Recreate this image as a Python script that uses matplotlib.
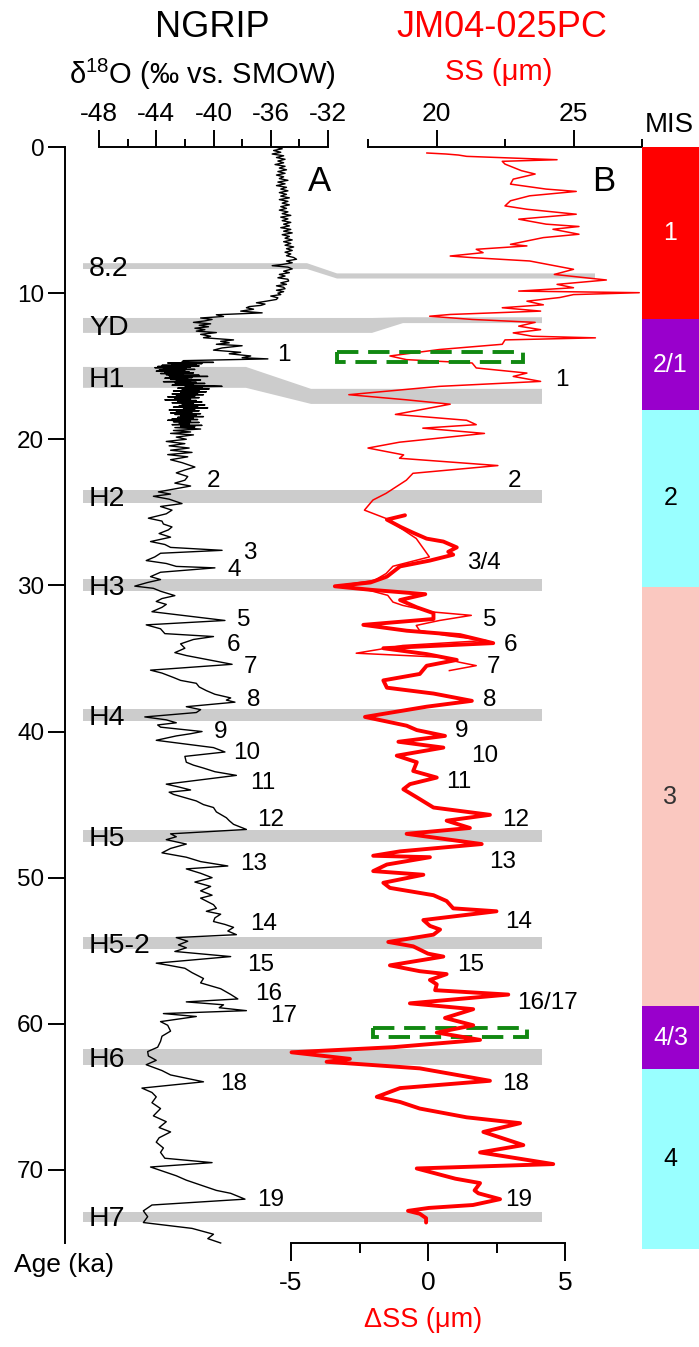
import numpy as np
import matplotlib
matplotlib.use("Agg")
import matplotlib.pyplot as plt
from matplotlib.patches import Polygon, Rectangle

plt.rcParams['font.family'] = ['Liberation Sans', 'DejaVu Sans']
plt.rcParams['axes.unicode_minus'] = False
plt.rcParams['mathtext.fontset'] = 'custom'
plt.rcParams['mathtext.rm'] = 'Liberation Sans'
plt.rcParams['mathtext.it'] = 'Liberation Sans:italic'

# ---- NGRIP d18O (age ka, permil) ----
ngrip_pts = [
    (0.00, -35.7), (0.12, -35.2), (0.24, -35.8), (0.36, -35.3), (0.48, -35.9), (0.60, -35.1),
    (0.72, -35.6), (0.84, -35.0), (0.96, -35.5), (1.08, -35.1), (1.20, -35.7), (1.32, -35.0),
    (1.44, -35.4), (1.56, -34.9), (1.68, -35.5), (1.80, -35.0), (1.92, -35.6), (2.04, -35.1),
    (2.16, -35.4), (2.28, -34.8), (2.40, -35.5), (2.52, -35.0), (2.64, -35.6), (2.76, -34.9),
    (2.88, -35.3), (3.00, -34.8), (3.12, -35.4), (3.24, -34.9), (3.36, -35.3), (3.48, -34.7),
    (3.60, -35.4), (3.72, -34.8), (3.84, -35.2), (3.96, -34.7), (4.08, -35.3), (4.20, -34.9),
    (4.32, -35.4), (4.44, -34.8), (4.56, -35.2), (4.68, -34.6), (4.80, -35.3), (4.92, -34.8),
    (5.04, -35.2), (5.16, -34.6), (5.28, -35.1), (5.40, -34.7), (5.52, -35.3), (5.64, -34.6),
    (5.76, -35.1), (5.88, -34.5), (6.00, -35.2), (6.12, -34.7), (6.24, -35.0), (6.36, -34.5),
    (6.48, -35.1), (6.60, -34.6), (6.72, -35.0), (6.84, -34.4), (6.96, -34.9), (7.08, -34.5),
    (7.20, -35.0), (7.32, -34.6), (7.44, -34.9), (7.56, -34.4), (7.68, -34.2), (7.80, -34.9),
    (7.92, -34.5), (8.04, -35.2), (8.12, -35.9), (8.22, -34.8), (8.34, -34.5), (8.50, -35.1),
    (8.60, -34.7), (8.72, -35.4), (8.83, -35.0), (8.95, -35.5), (9.05, -34.8), (9.17, -34.75),
    (9.30, -35.3), (9.40, -34.9), (9.50, -35.6), (9.60, -35.1), (9.70, -35.0), (9.80, -35.6),
    (9.90, -35.1), (10.0, -35.5), (10.1, -35.3), (10.2, -36.0), (10.32, -35.5), (10.43, -35.6),
    (10.55, -36.3), (10.66, -37.0), (10.75, -36.4), (10.84, -36.7), (10.92, -37.5), (11.0, -37.7),
    (11.1, -37.2), (11.23, -38.1), (11.35, -36.6), (11.48, -39.8), (11.6, -39.3), (11.7, -40.9),
    (11.8, -40.1), (11.9, -40.6), (12.0, -41.4), (12.1, -40.2), (12.2, -41.0), (12.3, -40.35),
    (12.4, -41.3), (12.5, -40.6), (12.6, -41.2), (12.7, -39.8), (12.82, -40.9), (12.95, -40.2),
    (13.05, -40.7), (13.2, -38.6), (13.3, -39.5), (13.4, -38.9), (13.5, -39.8), (13.6, -38.0),
    (13.75, -39.4), (13.9, -40.0), (14.05, -38.1), (14.15, -38.9), (14.3, -37.4), (14.42, -38.0),
    (14.5, -36.2), (14.62, -42.1),
    (14.70, -42.2), (14.74, -40.0), (14.78, -43.2), (14.82, -40.8), (14.86, -42.9), (14.90, -41.2),
    (14.94, -43.6), (14.98, -41.0), (15.02, -43.9), (15.06, -41.6), (15.10, -44.1), (15.14, -41.9),
    (15.18, -43.5), (15.22, -41.3), (15.26, -43.8), (15.30, -42.0), (15.34, -44.0), (15.38, -41.7),
    (15.42, -43.4), (15.46, -41.4), (15.50, -43.7), (15.54, -42.1), (15.58, -43.3), (15.62, -41.0),
    (15.66, -43.1), (15.70, -40.4), (15.74, -42.8), (15.78, -41.5), (15.82, -43.4), (15.86, -41.8),
    (15.90, -43.0), (15.94, -40.9), (15.98, -42.6), (16.02, -41.6), (16.06, -43.5), (16.10, -41.2),
    (16.14, -42.7), (16.18, -40.6), (16.22, -42.4), (16.26, -41.4), (16.30, -42.9), (16.34, -40.1),
    (16.38, -39.4), (16.42, -42.0), (16.46, -40.8), (16.50, -42.5), (16.55, -40.3), (16.60, -42.2),
    (16.65, -41.0), (16.70, -42.8), (16.75, -40.5), (16.80, -42.3), (16.85, -41.1), (16.90, -42.9),
    (16.95, -40.7), (17.00, -42.6), (17.05, -41.3), (17.10, -43.2), (17.15, -41.0), (17.20, -42.7),
    (17.25, -41.6), (17.30, -43.4), (17.35, -41.2), (17.40, -42.5), (17.45, -40.8), (17.50, -42.9),
    (17.55, -41.4), (17.60, -42.2), (17.65, -40.6), (17.70, -42.4), (17.75, -41.1), (17.80, -42.8),
    (17.85, -40.4), (17.90, -42.1), (17.95, -41.3), (18.00, -43.1), (18.05, -41.0), (18.10, -42.6),
    (18.15, -41.5), (18.20, -43.0), (18.25, -40.9), (18.30, -42.7), (18.35, -41.2), (18.40, -42.3),
    (18.45, -40.7), (18.50, -42.5), (18.55, -41.4), (18.60, -42.9), (18.65, -41.1), (18.70, -43.2),
    (18.75, -41.6), (18.80, -42.8), (18.85, -41.0), (18.90, -42.4), (18.95, -41.7), (19.00, -42.9),
    (19.05, -40.8), (19.10, -42.3), (19.15, -41.3), (19.20, -42.7), (19.30, -40.9), (19.40, -42.8),
    (19.50, -41.6), (19.60, -43.0), (19.70, -41.4), (19.85, -42.6), (20.00, -41.9), (20.15, -43.3),
    (20.30, -42.0), (20.45, -43.1), (20.60, -41.7), (20.75, -43.0), (20.90, -41.5), (21.05, -43.2),
    (21.20, -41.8), (21.4, -43.0), (21.6, -42.2), (21.9, -41.3), (22.1, -42.0), (22.3, -42.6),
    (22.55, -41.8), (22.8, -42.0), (23.0, -42.7), (23.2, -41.6), (23.6, -43.85), (23.75, -43.0),
    (23.9, -44.2), (24.1, -43.1), (24.4, -42.2), (24.6, -43.7), (24.85, -42.9), (25.1, -43.3),
    (25.4, -44.55), (25.6, -43.6), (25.8, -43.5), (26.0, -42.9), (26.2, -43.15), (26.45, -43.8),
    (26.7, -43.0), (27.0, -44.4), (27.2, -43.4), (27.4, -43.0), (27.6, -39.4), (27.8, -43.7),
    (28.05, -44.1), (28.3, -44.7), (28.5, -43.3), (28.7, -42.6), (28.8, -39.9), (29.1, -43.7),
    (29.4, -44.4), (29.6, -43.7), (29.8, -44.6), (30.05, -45.5), (30.2, -44.2), (30.4, -43.7),
    (30.7, -42.7), (30.9, -43.6), (31.1, -44.0), (31.3, -43.3), (31.5, -43.6), (31.8, -44.3),
    (32.4, -39.2), (32.7, -44.7), (32.97, -43.7), (33.3, -43.4), (33.5, -40.0), (33.7, -41.4),
    (34.0, -42.3), (34.3, -42.0), (34.6, -42.7), (34.8, -41.9), (35.4, -38.7), (35.8, -44.4),
    (36.0, -43.6), (36.3, -42.8), (36.5, -42.3), (36.7, -41.2), (36.95, -41.0), (37.2, -40.5),
    (37.45, -39.9), (37.7, -38.8), (37.85, -39.1), (37.99, -38.5), (38.3, -41.9), (38.5, -40.9),
    (38.7, -41.2), (39.0, -44.8), (39.2, -43.3), (39.4, -42.6), (39.55, -43.9), (39.7, -43.7),
    (40.0, -40.8), (40.15, -41.6), (40.3, -42.6), (40.6, -44.0), (41.1, -40.0), (41.4, -39.2),
    (41.7, -42.0), (42.1, -41.9), (42.3, -41.4), (42.5, -40.7), (42.75, -39.9), (43.0, -38.4),
    (43.6, -43.3), (43.8, -42.4), (44.0, -41.6), (44.15, -43.1), (44.3, -42.8), (44.55, -41.9),
    (44.75, -41.2), (45.0, -40.7), (45.2, -40.0), (45.5, -39.8), (45.9, -39.1), (46.1, -38.9),
    (46.35, -38.6), (46.7, -37.7), (47.0, -43.0), (47.2, -42.6), (47.4, -43.3), (47.7, -41.9),
    (48.0, -43.0), (48.3, -43.6), (48.6, -41.9), (48.9, -40.9), (49.2, -39.0), (49.4, -41.9),
    (49.7, -40.9), (50.0, -40.1), (50.3, -41.3), (50.6, -40.2), (50.9, -40.9), (51.2, -40.1),
    (51.4, -40.9), (51.6, -40.5), (51.85, -40.0), (52.1, -39.8), (52.3, -40.5), (52.5, -39.5),
    (52.75, -39.9), (53.0, -40.0), (53.2, -39.2), (53.4, -38.6), (53.65, -39.0), (53.9, -38.4),
    (54.1, -42.6), (54.35, -41.8), (54.6, -42.45), (54.8, -41.9), (55.05, -42.7), (55.4, -38.8),
    (55.85, -44.0), (56.0, -43.1), (56.2, -42.0), (56.5, -41.5), (56.9, -40.7), (57.2, -40.9),
    (57.6, -39.5), (57.99, -38.8), (58.3, -38.3), (58.5, -41.9), (58.7, -39.3), (58.9, -39.6),
    (59.1, -37.7), (59.3, -43.5), (59.5, -41.2), (59.85, -43.7), (60.1, -43.2), (60.5, -43.0),
    (60.85, -43.6), (61.2, -43.7), (61.6, -43.9), (61.9, -44.6), (62.2, -44.55), (62.5, -44.0),
    (62.8, -44.7), (63.2, -43.6), (63.5, -43.0), (63.97, -40.7), (64.4, -45.0), (64.7, -44.3),
    (65.0, -44.0), (65.4, -44.3), (65.8, -43.7), (66.3, -44.2), (66.7, -43.3), (67.1, -43.8),
    (67.4, -43.0), (67.8, -43.8), (68.1, -44.0), (68.5, -43.5), (68.8, -43.7), (69.2, -43.4),
    (69.5, -40.1), (69.8, -44.4), (70.1, -43.5), (70.4, -42.6), (70.7, -41.9), (71.1, -40.7),
    (71.4, -39.8), (71.6, -38.8), (72.0, -37.8), (72.4, -44.3), (72.8, -44.9), (73.2, -44.6),
    (73.6, -44.9), (74.0, -41.5), (74.4, -40.0), (74.7, -40.4), (75.0, -39.5)]
ngrip_age, ngrip_d18o = map(list, zip(*ngrip_pts))

# ---- JM04-025PC sortable silt, SS (um) ----
ss_pts = [
    (0.41, 19.65), (0.48, 20.35), (0.55, 20.8), (0.64, 21.1), (0.87, 24.4), (0.98, 22.4),
    (1.17, 22.5), (1.62, 23.1), (1.85, 23.6), (2.2, 22.8), (2.54, 22.7), (2.88, 24.0),
    (3.04, 25.1), (3.34, 23.4), (3.68, 22.7), (4.03, 22.5), (4.26, 23.3), (4.6, 25.1),
    (4.94, 23.0), (5.28, 24.0), (5.44, 25.2), (5.63, 24.25), (5.97, 25.2), (6.2, 23.9),
    (6.66, 22.7), (6.77, 23.3), (7.0, 21.45), (7.23, 21.7), (7.46, 20.5), (7.57, 21.3),
    (7.8, 23.4), (8.37, 25.0), (8.72, 24.3), (9.1, 26.2), (9.4, 24.4), (9.63, 25.0),
    (9.86, 23.0), (9.97, 27.4), (10.1, 25.0), (10.3, 24.5), (10.55, 23.3), (10.8, 23.9),
    (11.0, 22.4), (11.23, 23.8), (11.46, 20.5), (11.58, 19.75), (11.8, 21.3), (12.0, 23.6),
    (12.26, 23.0), (12.5, 23.8), (12.72, 22.8), (12.95, 23.5), (13.06, 25.8), (13.2, 22.5),
    (13.5, 22.4), (13.86, 20.1), (14.3, 18.3), (14.55, 18.9), (14.78, 21.3), (15.12, 21.45),
    (15.47, 23.3), (15.7, 22.8), (16.04, 23.8), (16.38, 20.1), (16.95, 16.8), (17.3, 18.9),
    (17.6, 20.5), (18.3, 18.5), (18.7, 21.1), (19.0, 21.45), (19.24, 19.5), (19.6, 21.75),
    (20.2, 18.65), (20.6, 17.5), (21.07, 18.8), (21.3, 18.65), (21.8, 22.24), (22.33, 19.14),
    (22.8, 18.9), (23.7, 18.16), (24.16, 17.68), (24.85, 17.37), (25.42, 18.16), (26.79, 19.26),
    (28.05, 19.74), (28.69, 18.41), (29.19, 18.16), (29.65, 17.74), (30.06, 16.28), (30.34, 17.55),
    (30.68, 18.22), (31.14, 18.41), (31.37, 18.77), (31.82, 19.87), (32.05, 21.27), (32.4, 20.11),
    (32.74, 19.26), (33.08, 19.38), (33.43, 20.35), (33.77, 21.81), (34.11, 18.77), (34.64, 17.07),
    (34.91, 20.11), (35.26, 20.84), (35.49, 21.45), (35.83, 20.47)]
ss_age, ss_val = map(list, zip(*ss_pts))

# ---- JM04-025PC delta SS (um) ----
dss_pts = [
    (25.2, -0.84), (25.5, -1.5), (26.0, -1.0), (26.4, -0.54), (26.8, -0.05), (27.0, 0.56),
    (27.4, 1.05), (27.7, 0.74), (27.9, 0.92), (28.3, 0.07), (28.7, -1.02), (29.4, -1.5),
    (29.8, -2.1), (30.06, -3.4), (30.3, -2.1), (30.6, -0.1), (31.0, -1.02), (31.5, -0.41),
    (31.9, 0.2), (32.3, 0.2), (32.7, -2.36), (33.1, -0.78), (33.4, 1.17), (33.95, 2.38),
    (34.3, -1.63), (34.7, -0.05), (35.1, 1.05), (35.5, -0.05), (36.06, -0.3), (36.5, -1.63),
    (37.0, -1.5), (37.4, 0.2), (37.9, 1.6), (38.3, -0.05), (39.0, -2.3), (39.6, -0.78),
    (39.9, -0.41), (40.3, 0.62), (40.7, -1.08), (41.1, 0.56), (41.65, -1.14), (42.1, -0.41),
    (42.7, -0.54), (43.15, 0.32), (43.6, -0.66), (43.95, -0.9), (44.5, -0.41), (45.2, 0.2),
    (45.7, 2.26), (46.1, 0.68), (46.6, 1.53), (47.0, -0.78), (47.7, 1.96), (48.2, -1.02),
    (48.5, -2.0), (48.6, 0.07), (49.1, -1.5), (49.55, -2.0), (49.8, -0.17), (50.35, -1.63),
    (50.7, -1.39), (51.2, 0.2), (51.6, 0.68), (52.1, 0.92), (52.3, 2.5), (52.9, -0.17),
    (53.3, 0.07), (53.55, 0.44), (53.9, 0.2), (54.4, -1.45), (54.7, -0.54), (55.2, 0.0),
    (55.4, 0.56), (56.0, -1.39), (56.4, -0.3), (56.6, 0.68), (57.0, 0.07), (57.3, 0.32),
    (57.7, 0.26), (58.0, 2.93), (58.6, -0.66), (59.0, 1.65), (59.6, 0.62), (60.1, 1.65),
    (60.6, 0.32), (61.1, 1.9), (61.6, -1.27), (61.95, -4.98), (62.4, -2.85), (62.6, -3.7),
    (63.05, -0.3), (63.9, 2.26), (64.4, -1.02), (65.0, -1.87), (65.35, -1.02), (65.8, -0.3),
    (66.4, 1.41), (66.8, 3.36), (67.4, 2.02), (68.3, 3.48), (68.8, 1.9), (69.6, 4.57),
    (69.9, -0.41), (70.6, 1.0), (70.9, 1.9), (71.4, 1.7), (71.6, 1.84), (72.0, 2.63),
    (72.4, 1.64), (72.6, 0.03), (72.8, -0.73), (73.0, -0.3), (73.3, -0.07), (73.6, -0.07)]
dss_age, dss_val = map(list, zip(*dss_pts))

# ---- cold events (age bands, ka) ----
ev_names = ['8.2', 'YD', 'H1', 'H2', 'H3', 'H4', 'H5', 'H5-2', 'H6', 'H7']
ev_top_l = [7.95, 11.7, 15.05, 23.46, 29.55, 38.44, 46.72, 54.04, 61.7, 72.85]
ev_bot_l = [8.35, 12.72, 16.48, 24.35, 30.37, 39.26, 47.54, 54.86, 62.8, 73.53]
ev_top_r = [8.65, 11.65, 16.55, 23.46, 29.55, 38.44, 46.72, 54.04, 61.7, 72.85]
ev_bot_r = [9.0, 12.05, 17.58, 24.35, 30.37, 39.26, 47.54, 54.86, 62.8, 73.53]

# ---- interstadial labels ----
gi_left = ['1', '2', '3', '4', '5', '6', '7', '8', '9', '10', '11', '12', '13', '14',
           '15', '16', '17', '18', '19']
gi_left_x = [-35.55, -40.45, -37.9, -39.0, -38.35, -39.05, -37.9, -37.65, -40.0, -38.6,
             -37.45, -36.95, -38.15, -37.45, -37.65, -37.1, -36.05, -39.55, -36.95]
gi_left_age = [14.1, 22.7, 27.6, 28.8, 32.2, 33.9, 35.4, 37.7, 39.9, 41.3, 43.4, 45.9,
               48.9, 53.0, 55.8, 57.8, 59.3, 64.0, 71.9]
gi_right = ['1', '2', '3/4', '5', '6', '7', '8', '9', '10', '11', '12', '13', '14', '15',
            '16/17', '18', '19']
gi_right_x = [4.64, 2.92, 1.42, 2.0, 2.77, 2.15, 2.0, 0.99, 1.57, 0.66, 2.7, 2.23, 2.81,
              1.06, 3.25, 2.7, 2.81]
gi_right_age = [15.8, 22.7, 28.3, 32.2, 33.9, 35.4, 37.7, 39.8, 41.5, 43.3, 45.9, 48.8,
                52.9, 55.8, 58.4, 64.0, 71.9]

# ---- MIS ----
mis_names = ['1', '2/1', '2', '3', '4/3', '4']
mis_start = [0, 11.8, 18.0, 30.1, 58.8, 63.1]
mis_end = [11.8, 18.0, 30.1, 58.8, 63.1, 75.4]
mis_colors = ['#ff0000', '#9900cc', '#99ffff', '#fac8c0', '#9900cc', '#99ffff']
mis_text = ['white', 'white', 'black', '#333333', 'white', 'black']

# ---- layout (pixels) ----
W, H = 699, 1347
TOP, BOT = 147, 1243
AGE_MAX = 75.0


def rect(x0, x1):
    return [x0 / W, 1 - BOT / H, (x1 - x0) / W, (BOT - TOP) / H]


def fy(y):
    return 1 - y / H


fig = plt.figure(figsize=(W / 100, H / 100), dpi=100)

LW = 1.4
tick_kw = dict(width=LW, labelsize=19)

# age axis and event bands
ax = fig.add_axes(rect(65, 642))
ax.set_facecolor('none')
ax.set_xlim(65, 642)
ax.set_ylim(AGE_MAX, 0)
for s in ['top', 'right', 'bottom']:
    ax.spines[s].set_visible(False)
ax.spines['left'].set_linewidth(LW)
ax.set_xticks([])
ax.set_yticks(np.arange(0, 71, 10))
ax.tick_params(axis='y', direction='out', length=12, pad=3, width=LW, labelsize=17.5)

band_x0, band_x1 = 83, 542
bend = {'8.2': (307, 337), 'YD': (372, 403), 'H1': (246, 311)}
band_end = {'8.2': 595}
for i, name in enumerate(ev_names):
    b0, b1 = bend.get(name, (300, 300))
    xe = band_end.get(name, band_x1)
    verts = [(band_x0, ev_top_l[i]), (b0, ev_top_l[i]), (b1, ev_top_r[i]), (xe, ev_top_r[i]),
             (xe, ev_bot_r[i]), (b1, ev_bot_r[i]), (b0, ev_bot_l[i]), (band_x0, ev_bot_l[i])]
    ax.add_patch(Polygon(verts, closed=True, facecolor='#cccccc', edgecolor='none', zorder=1))
    ax.text(89, (ev_top_l[i] + ev_bot_l[i]) / 2 + 0.2, name, fontsize=20.5,
            ha='left', va='center', zorder=3)

# NGRIP
axA = fig.add_axes(rect(99, 328))
axA.set_facecolor('none')
axA.set_xlim(-48, -32)
axA.set_ylim(AGE_MAX, 0)
for s in ['left', 'right', 'bottom']:
    axA.spines[s].set_visible(False)
axA.spines['top'].set_linewidth(LW)
axA.set_yticks([])
axA.xaxis.set_ticks_position('top')
axA.set_xticks([-48, -44, -40, -36, -32])
axA.set_xticks([-46, -42, -38, -34], minor=True)
axA.tick_params(axis='x', which='major', direction='out', length=12, pad=3, **tick_kw)
axA.tick_params(axis='x', which='minor', direction='out', length=6, width=LW)
axA.plot(ngrip_d18o, ngrip_age, color='black', lw=1.0, clip_on=False, zorder=4)
for t, x, a in zip(gi_left, gi_left_x, gi_left_age):
    axA.text(x, a + 0.15, t, fontsize=17.5, ha='left', va='center', zorder=5)
axA.text(-32.58, 2.35, 'A', fontsize=25, ha='center', va='center')

# SS
axB = fig.add_axes(rect(368, 642))
axB.set_facecolor('none')
axB.set_xlim(17.5, 27.5)
axB.set_ylim(AGE_MAX, 0)
for s in ['left', 'right', 'bottom']:
    axB.spines[s].set_visible(False)
axB.spines['top'].set_linewidth(LW)
axB.set_yticks([])
axB.xaxis.set_ticks_position('top')
axB.set_xticks([20, 25])
axB.set_xticks([17.5, 22.5, 27.5], minor=True)
axB.tick_params(axis='x', which='major', direction='out', length=12, pad=3, **tick_kw)
axB.tick_params(axis='x', which='minor', direction='out', length=6, width=LW)
axB.plot(ss_val, ss_age, color='red', lw=1.1, clip_on=False, zorder=4)
axB.text(26.1, 2.35, 'B', fontsize=25, ha='center', va='center')

# delta SS
axC = fig.add_axes(rect(291, 565))
axC.set_facecolor('none')
axC.set_xlim(-5, 5)
axC.set_ylim(AGE_MAX, 0)
for s in ['left', 'right', 'top']:
    axC.spines[s].set_visible(False)
axC.spines['bottom'].set_linewidth(LW)
axC.set_yticks([])
axC.set_xticks([-5, 0, 5])
axC.set_xticks([-2.5, 2.5], minor=True)
axC.tick_params(axis='x', which='major', direction='out', length=13, pad=7, **tick_kw)
axC.tick_params(axis='x', which='minor', direction='out', length=7, width=LW)
axC.plot(dss_val, dss_age, color='red', lw=2.8, clip_on=False, zorder=4,
         solid_joinstyle='round', solid_capstyle='round')
for t, x, a in zip(gi_right, gi_right_x, gi_right_age):
    axC.text(x, a + 0.15, t, fontsize=17.5, ha='left', va='center', zorder=5)

# green dashed boxes
green_boxes = [(-3.32, 3.47, 14.02, 14.7), (-2.0, 3.6, 60.26, 60.88)]
for x0, x1, a0, a1 in green_boxes:
    axC.add_patch(Rectangle((x0, a0), x1 - x0, a1 - a0, fill=False, edgecolor='#118811',
                            lw=2.8, linestyle=(0, (5.5, 2.5)), clip_on=False, zorder=3))

# MIS column
axM = fig.add_axes(rect(642, 699))
axM.set_xlim(0, 1)
axM.set_ylim(AGE_MAX, 0)
axM.axis('off')
for n, a0, a1, c, tc in zip(mis_names, mis_start, mis_end, mis_colors, mis_text):
    axM.bar(0.5, a1 - a0, bottom=a0, width=1.0, color=c, edgecolor='none', clip_on=False)
    axM.text(0.5, (a0 + a1) / 2, n, color=tc, fontsize=18, ha='center', va='center')

# headers
fig.text(212 / W, fy(37), 'NGRIP', fontsize=26, ha='center', va='baseline')
fig.text(202 / W, fy(84), r'δ$^{18}$O (‰ vs. SMOW)', fontsize=21, ha='center', va='baseline')
fig.text(502 / W, fy(37), 'JM04-025PC', fontsize=26, ha='center', va='baseline', color='red')
fig.text(499 / W, fy(80), 'SS (μm)', fontsize=21, ha='center', va='baseline', color='red')
fig.text(669 / W, fy(132), 'MIS', fontsize=20, ha='center', va='baseline')
fig.text(14 / W, fy(1272), 'Age (ka)', fontsize=19, ha='left', va='baseline')
fig.text(423 / W, fy(1327), 'ΔSS (μm)', fontsize=19.5, ha='center', va='baseline', color='red')

fig.savefig('out.png', dpi=100)
